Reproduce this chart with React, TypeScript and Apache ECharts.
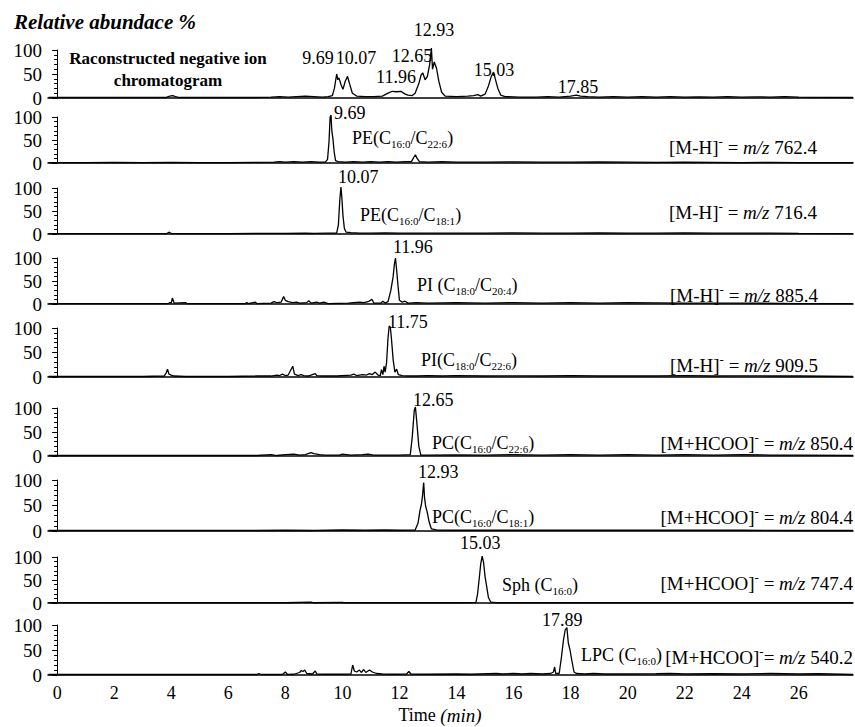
import React, { useEffect, useRef } from "react";
import * as echarts from "echarts";

// ---------- DATA ----------
const tickValues = [0, 2, 4, 6, 8, 10, 12, 14, 16, 18, 20, 22, 24, 26];

// [time (min), relative abundance %]
const ticTrace: [number, number][] = [
  [-0.3, 1], [1, 1], [2, 1.5], [3, 1], [3.8, 1], [3.95, 4], [4.05, 5], [4.15, 3], [4.3, 1], [5, 1], [6, 1], [7, 1],
  [7.5, 2], [7.8, 3], [8.1, 2], [8.4, 3], [8.7, 4], [9.0, 3], [9.3, 2], [9.5, 3], [9.65, 5], [9.72, 20], [9.8, 50],
  [9.84, 38], [9.88, 42], [9.95, 28], [10.02, 18], [10.1, 35], [10.18, 45], [10.25, 30], [10.35, 10], [10.5, 4],
  [10.8, 3], [11.1, 3], [11.4, 4], [11.6, 10], [11.75, 14], [11.9, 13], [12.05, 14], [12.2, 8], [12.3, 6], [12.45, 5],
  [12.55, 10], [12.68, 30], [12.76, 48], [12.82, 52], [12.9, 38], [12.98, 45], [13.06, 70], [13.12, 104], [13.16, 60],
  [13.22, 75], [13.3, 62], [13.38, 35], [13.48, 12], [13.6, 4], [14, 3], [14.4, 4], [14.6, 5], [14.75, 7], [14.85, 4],
  [15.0, 8], [15.12, 25], [15.22, 45], [15.3, 54], [15.36, 40], [15.45, 20], [15.55, 6], [15.7, 3], [16.2, 2], [16.8, 2],
  [17.2, 3], [17.6, 2], [18.0, 4], [18.2, 6], [18.35, 4], [18.6, 3], [19, 2], [19.5, 3], [20, 2], [20.5, 3], [21, 2],
  [21.5, 3], [22, 2], [22.5, 2.5], [23, 2], [23.5, 3], [24, 2], [24.5, 2.5], [25, 2], [25.5, 3], [26, 2], [26.5, 1.5], [27.9, 1],
];

const pe762Trace: [number, number][] = [
  [-0.3, 1], [1, 1], [2, 1.5], [3, 1], [4, 1.5], [5, 1], [6, 1], [7, 1.5], [7.6, 2], [7.8, 3], [8.0, 2], [8.3, 3], [8.6, 2],
  [8.9, 3], [9.2, 2], [9.4, 2], [9.48, 8], [9.53, 45], [9.57, 100], [9.6, 104], [9.63, 70], [9.67, 52], [9.71, 25],
  [9.76, 5], [9.85, 3], [10.1, 2], [10.4, 3], [10.7, 2], [11.0, 3], [11.3, 2], [11.6, 3], [11.9, 2], [12.2, 3], [12.42, 3],
  [12.5, 12], [12.56, 18], [12.62, 10], [12.7, 3], [13.0, 2], [13.5, 3], [14, 2], [15, 2], [16, 2.5], [17, 2], [18, 2],
  [19, 2.5], [20, 2], [21, 1.5], [22, 2], [23, 1.5], [24, 1], [25, 1.5], [26, 1], [27.9, 1],
];

const pe716Trace: [number, number][] = [
  [-0.3, 1], [1, 1], [2, 1], [3, 1], [3.85, 1], [3.92, 4], [4.0, 1], [5, 1], [6, 1], [7, 1.5], [8, 1.5], [8.7, 2], [9, 1.5],
  [9.5, 2], [9.8, 2], [9.86, 20], [9.91, 75], [9.95, 102], [9.98, 80], [10.02, 40], [10.07, 12], [10.13, 4], [10.3, 3],
  [10.6, 2], [11, 2], [11.5, 2.5], [12, 2], [12.5, 2], [13, 2], [14, 2], [15, 2], [16, 2.5], [17, 2], [18, 2], [19, 2.5],
  [20, 2], [21, 2], [22, 2.5], [23, 2], [24, 2], [25, 2], [26, 1.5], [27.9, 1],
];

const pi885Trace: [number, number][] = [
  [-0.3, 1], [2, 1], [3.9, 1], [3.95, 3], [4.0, 2], [4.04, 13], [4.1, 2], [4.5, 3], [4.55, 1], [6.6, 1], [6.65, 3],
  [6.7, 1], [6.95, 4], [7.0, 1], [7.5, 2], [7.6, 5], [7.7, 3], [7.85, 4], [7.94, 16], [8.0, 8], [8.1, 5], [8.25, 3],
  [8.4, 4], [8.5, 2], [8.75, 3], [8.82, 7], [8.9, 2], [9.1, 4], [9.2, 2], [9.35, 4], [9.5, 1], [10.2, 2], [10.4, 3],
  [10.6, 4], [10.75, 3], [10.9, 5], [11.04, 10], [11.1, 2], [11.35, 2], [11.42, 6], [11.5, 2], [11.6, 5], [11.7, 30],
  [11.78, 60], [11.82, 85], [11.86, 100], [11.9, 75], [11.95, 40], [12.0, 8], [12.1, 4], [12.2, 6], [12.3, 2],
  [12.6, 3], [13, 2], [14, 3], [15, 2], [16, 3], [17, 2], [18, 3], [19, 2], [20, 3], [22, 2], [24, 2], [26, 1], [27.9, 1],
];

const pi909Trace: [number, number][] = [
  [-0.3, 1], [1, 1], [2, 1], [3, 1], [3.75, 2], [3.82, 8], [3.87, 16], [3.92, 6], [4.0, 4], [4.1, 2], [4.5, 1], [5, 1],
  [6, 1], [6.5, 1.5], [7.0, 2], [7.5, 2], [7.7, 4], [7.8, 3], [7.9, 6], [8.0, 3], [8.1, 4], [8.26, 22], [8.32, 6],
  [8.45, 3], [8.55, 5], [8.65, 3], [8.8, 2], [9.05, 7], [9.1, 3], [9.3, 2], [9.8, 2], [10.3, 4], [10.4, 6], [10.5, 3],
  [10.7, 5], [10.85, 4], [10.95, 7], [11.05, 5], [11.15, 10], [11.25, 4], [11.33, 3], [11.37, 15], [11.42, 5],
  [11.46, 22], [11.5, 10], [11.55, 30], [11.6, 80], [11.64, 104], [11.68, 102], [11.72, 78], [11.78, 35], [11.84, 10],
  [11.9, 16], [11.96, 5], [12.1, 3], [12.3, 2], [12.6, 2], [13, 3], [13.5, 2], [14, 3], [15, 2], [16, 2.5], [17, 2],
  [18, 3], [19, 2], [20, 2.5], [21, 2], [22, 3], [23, 2], [24, 2.5], [25, 2], [26, 2], [27.9, 1],
];

const pc850Trace: [number, number][] = [
  [-0.3, 1], [1, 1.5], [3, 1], [5, 1], [7, 1], [7.5, 3], [7.7, 1], [8.0, 3], [8.3, 4], [8.5, 2], [8.7, 3], [8.9, 7],
  [9.0, 5], [9.2, 3], [9.4, 2], [9.9, 2], [10.0, 4], [10.3, 2], [10.7, 3], [10.9, 4], [11.1, 2], [11.5, 2], [12.0, 2],
  [12.38, 3], [12.45, 40], [12.52, 95], [12.56, 102], [12.61, 70], [12.68, 20], [12.75, 2], [13, 2], [14, 2.5], [15, 2],
  [16, 3], [17, 2], [18, 3], [19, 2], [20, 3], [21, 2], [22, 3], [23, 2], [24, 3], [25, 2], [26, 2], [27.9, 1],
];

const pc804Trace: [number, number][] = [
  [-0.3, 1], [2, 1], [4, 1], [6, 1], [7, 1], [8, 1.5], [9, 1], [10, 2], [10.8, 1.5], [11.5, 2], [12, 1.5], [12.55, 2],
  [12.65, 15], [12.72, 40], [12.77, 52], [12.81, 70], [12.85, 95], [12.88, 65], [12.92, 48], [12.97, 38], [13.04, 18],
  [13.12, 4], [13.3, 2], [14, 1.5], [16, 1.5], [18, 1.5], [20, 1.5], [22, 1.5], [24, 1.5], [26, 1], [27.9, 1],
];

const sphTrace: [number, number][] = [
  [-0.3, 1], [2, 0.5], [4, 0.5], [6, 0.5], [8, 0.5], [8.9, 2], [9, 0.5], [10, 1.5], [10.1, 0.5], [12, 0.5], [14, 0.5],
  [14.68, 1], [14.74, 20], [14.8, 55], [14.85, 85], [14.9, 102], [14.95, 88], [15.0, 58], [15.06, 35], [15.12, 12],
  [15.2, 2], [15.4, 0.5], [18, 0.5], [20, 0.5], [22, 0.5], [24, 0.5], [26, 0.5], [27.9, 0.5],
];

const lpcTrace: [number, number][] = [
  [-0.3, 1], [1, 1], [2, 1], [3, 1], [4, 1], [5, 1], [6, 1], [7.0, 1], [7.07, 3], [7.15, 1], [7.9, 1], [8.0, 6], [8.08, 1],
  [8.3, 1.5], [8.5, 5], [8.56, 9], [8.62, 7], [8.68, 10], [8.75, 3], [8.95, 2], [9.05, 8], [9.1, 2], [9.5, 1.5], [10.0, 1.5],
  [10.3, 2], [10.36, 20], [10.42, 8], [10.5, 6], [10.6, 10], [10.66, 5], [10.75, 11], [10.82, 5], [10.95, 10], [11.05, 6],
  [11.2, 3], [11.4, 2], [11.8, 1.5], [12.25, 2], [12.33, 7], [12.4, 2], [13, 1.5], [14, 2], [14.5, 1.5], [15.4, 3],
  [15.6, 2], [16.0, 3], [16.3, 2], [16.6, 3], [17.0, 2], [17.3, 3], [17.4, 6], [17.44, 16], [17.48, 3], [17.6, 3],
  [17.68, 36], [17.75, 70], [17.81, 90], [17.87, 95], [17.92, 64], [17.98, 50], [18.04, 30], [18.12, 6], [18.2, 3],
  [18.5, 2], [18.8, 3], [19.2, 2], [20, 2], [21, 2.5], [21.5, 3], [22, 2], [23, 2.5], [24, 2], [25, 3], [26, 2],
  [26.7, 2.5], [27.9, 1],
];

const traces = [ticTrace, pe762Trace, pe716Trace, pi885Trace, pi909Trace, pc850Trace, pc804Trace, sphTrace, lpcTrace];

// Annotation texts
const titleText = "Relative abundace %";
const ticCaption = ["Raconstructed negative ion", "chromatogram"];
const ticPeakLabels = ["9.69", "10.07", "11.96", "12.65", "12.93", "15.03", "17.85"];
const panelPeakLabels = ["9.69", "10.07", "11.96", "11.75", "12.65", "12.93", "15.03", "17.89"];
const compoundLabels = [
  "PE(C{s|16:0}/C{s|22:6})",
  "PE(C{s|16:0}/C{s|18:1})",
  "PI (C{s|18:0}/C{s|20:4})",
  "PI(C{s|18:0}/C{s|22:6})",
  "PC(C{s|16:0}/C{s|22:6})",
  "PC(C{s|16:0}/C{s|18:1})",
  "Sph (C{s|16:0})",
  "LPC (C{s|16:0})",
];
const ionLabels = [
  "[M-H]{sup|-} = {i|m/z} 762.4",
  "[M-H]{sup|-} = {i|m/z} 716.4",
  "[M-H]{sup|-} = {i|m/z} 885.4",
  "[M-H]{sup|-} = {i|m/z} 909.5",
  "[M+HCOO]{sup|-} = {i|m/z} 850.4",
  "[M+HCOO]{sup|-} = {i|m/z} 804.4",
  "[M+HCOO]{sup|-} = {i|m/z} 747.4",
  "[M+HCOO]{sup|-}= {i|m/z} 540.2",
];
const axisTitle = "Time {i|(min)}";

// ---------- LAYOUT ----------
const SERIF = "Liberation Serif";
const panelTops = [50, 117, 188, 258, 328, 408, 480, 557, 625];
const panelBottoms = [98, 163, 234, 304, 377, 456, 531, 603, 675];
const ticPeakPos = [[318, 58], [356, 58], [396, 77], [412, 56], [434, 30], [494, 70], [578, 87]];
const peakLabelPos = [[334, 113], [338, 177], [393, 247], [388, 322], [413, 400], [418, 472], [460, 543], [542, 620]];
const compoundPos = [[352, 138], [360, 215], [417, 285], [421, 360], [432, 443], [432, 517], [502, 585], [581, 655]];
const ionPos = [[817, 147], [817, 212], [818, 295], [818, 365], [853, 443], [853, 517], [853, 583], [853, 657]];

const rich = {
  s: { fontFamily: SERIF, fontSize: 11, fill: "#000", padding: [12, 0, 0, 0] },
  sup: { fontFamily: SERIF, fontSize: 13, fill: "#000", padding: [0, 0, 12, 0] },
  i: { fontFamily: SERIF, fontSize: 19, fontStyle: "italic", fill: "#000" },
};

function txt(
  text: string,
  x: number,
  y: number,
  align: string,
  fontSize = 18,
  fontWeight = "normal",
  fontStyle = "normal"
) {
  return {
    type: "text",
    x,
    y,
    silent: true,
    style: {
      text,
      fontFamily: SERIF,
      fontSize,
      fontWeight,
      fontStyle,
      fill: "#000",
      align,
      verticalAlign: "middle",
      rich,
    },
  };
}

function buildOption() {
  const n = traces.length;
  const grid: any[] = [];
  const xAxis: any[] = [];
  const yAxis: any[] = [];
  const series: any[] = [];
  for (let i = 0; i < n; i++) {
    grid.push({ left: 48, right: 2, top: panelTops[i], height: panelBottoms[i] - panelTops[i] });
    xAxis.push({
      gridIndex: i,
      type: "value",
      min: -0.32,
      max: 27.9,
      axisLine: { show: true, onZero: false, lineStyle: { color: "#000", width: 1.5 } },
      axisTick: { show: false },
      splitLine: { show: false },
      axisLabel: {
        show: i === n - 1,
        customValues: tickValues,
        fontFamily: SERIF,
        fontSize: 18,
        color: "#000",
        margin: 9,
      },
    });
    yAxis.push({
      gridIndex: i,
      type: "value",
      min: 0,
      max: 100,
      interval: 50,
      axisLine: { show: true, lineStyle: { color: "#000", width: 1 } },
      axisTick: { show: true, length: 5, lineStyle: { color: "#000" } },
      minorTick: { show: true, splitNumber: 5, length: 3, lineStyle: { color: "#000" } },
      splitLine: { show: false },
      axisLabel: { fontFamily: SERIF, fontSize: 19, color: "#000", margin: 6 },
    });
    series.push({
      type: "line",
      xAxisIndex: i,
      yAxisIndex: i,
      data: traces[i],
      showSymbol: false,
      symbol: "none",
      clip: false,
      silent: true,
      lineStyle: { color: "#000", width: 1.3 },
    });
  }

  const elements: any[] = [];
  elements.push(txt(titleText, 14, 22, "left", 21, "bold", "italic"));
  elements.push(txt(ticCaption[0], 168, 58, "center", 17, "bold"));
  elements.push(txt(ticCaption[1], 168, 80, "center", 17, "bold"));
  ticPeakLabels.forEach((t, k) => elements.push(txt(t, ticPeakPos[k][0], ticPeakPos[k][1], "center")));
  panelPeakLabels.forEach((t, k) => elements.push(txt(t, peakLabelPos[k][0], peakLabelPos[k][1], "left")));
  compoundLabels.forEach((t, k) => elements.push(txt(t, compoundPos[k][0], compoundPos[k][1], "left")));
  ionLabels.forEach((t, k) => elements.push(txt(t, ionPos[k][0], ionPos[k][1], "right", 19)));
  elements.push(txt(axisTitle, 440, 715, "center"));

  return {
    animation: false,
    backgroundColor: "#fff",
    grid,
    xAxis,
    yAxis,
    series,
    graphic: { elements },
  };
}

export default function App() {
  const ref = useRef<HTMLDivElement>(null);
  useEffect(() => {
    if (!ref.current) return;
    const chart = echarts.init(ref.current, null, { renderer: "svg" });
    chart.setOption(buildOption() as any);
    return () => chart.dispose();
  }, []);
  return (
    <div
      ref={ref}
      style={{ position: "fixed", left: 0, top: 0, width: 855, height: 727, background: "#fff" }}
    />
  );
}
